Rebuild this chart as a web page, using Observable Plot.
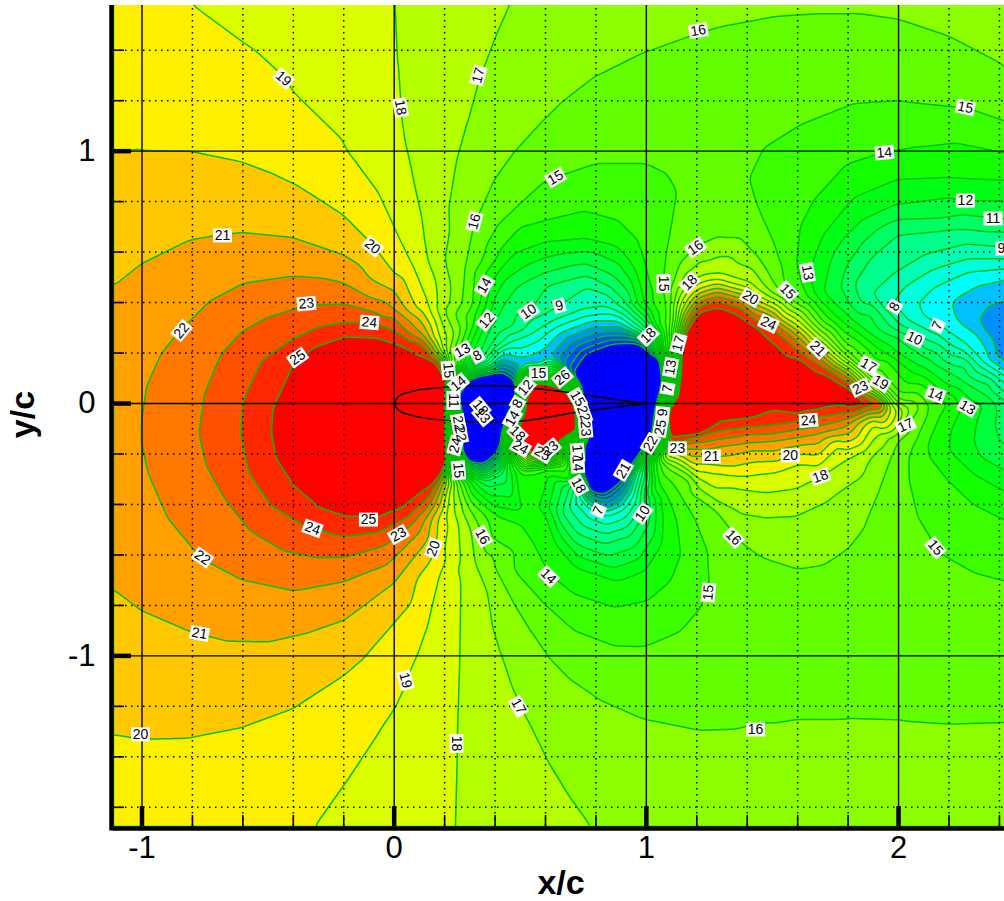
<!DOCTYPE html>
<html><head><meta charset="utf-8">
<script src="https://cdn.jsdelivr.net/npm/d3@7"></script>
<script src="https://cdn.jsdelivr.net/npm/@observablehq/plot@0.6"></script>
<style>html,body{margin:0;padding:0;background:#fff;overflow:hidden}#w{position:absolute;left:0;top:5px;width:1004px;height:896px;overflow:hidden}#w svg{display:block;margin-top:-3px;max-width:none!important;background:#fff}</style>
</head><body><div id="w"></div>
<script>
// Contour lines: [x/c, y/c] along each level
const lvl0=[[.37,.03],[.35,-.1],[.3,.05],[.43,.06],[.32,-.19],[.4,-.1],[.9,.1],[.88,-.1],[.83,-.25],[.8,.1],[.98,.15],[1,0],[.8,-.1],[.87,-.27],[.8,-.3],[.95,-.12]];
const lvl1=[[.25,.045],[.342,.111],[.422,.124],[.488,.078],[.494,.012],[.455,-.041],[.428,-.12],[.415,-.186],[.356,-.239],[.29,-.226],[.263,-.173],[.276,-.094],[.256,-.015],
[.706,.111],[.765,.197],[.871,.236],[.976,.236],[1.056,.183],[1.069,.091],[1.042,-.015],[1.029,-.12],[.99,-.173],[.95,-.239],[.897,-.305],[.831,-.358],[.778,-.345],[.745,-.279],[.752,-.16],[.758,-.054],[.739,.025],[.739,.064]];
const lvl5=[[.342,.144],[.422,.177],[.501,.15],[.567,.157],[.62,.19],[.686,.263],[.791,.302],[.897,.302],[.99,.263],[1.03,.223],
[.3,-.26],[.36,-.275],[.42,-.23],
[2.46,.42],[2.421,.411],[2.352,.395],[2.3,.349],[2.319,.303],[2.365,.25],[2.379,.184],[2.418,.157],[2.445,.131]];
const lvl4=[[2.46,.3],[2.47,.37],[2.47,.2]];
const lvl6=[[2.46,.5],[2.421,.494],[2.312,.468],[2.22,.415],[2.2,.382],[2.233,.329],[2.312,.276],[2.359,.197],[2.405,.144],[2.445,.118]];
const lvl7=[[2.46,.535],[2.421,.534],[2.273,.521],[2.14,.461],[2.074,.395],[2.101,.342],[2.16,.309],[2.246,.25],[2.326,.17],[2.405,.118],[2.445,.098],
[.739,-.371],[.792,-.424],[.845,-.444],[.911,-.417],[.951,-.358],[.98,-.25],[.73,-.3]];
const lvl8=[[.36,.155],[.402,.2],[.474,.25],[.567,.289],[.633,.329],[.739,.368],[.844,.382],[.924,.342],[.99,.289],[1.016,.256],
[2.46,.57],[2.421,.573],[2.273,.573],[2.127,.527],[2.021,.461],[1.955,.402],[1.988,.382],[2.035,.329],[2.114,.29],[2.22,.223],[2.312,.157],[2.392,.105],[2.445,.065]];
const lvl9=[[.35,.16],[.4,.22],[.461,.28],[.54,.33],[.659,.388],[.765,.461],[.844,.435],[.897,.382],[.95,.342],[1.003,.302],[1.03,.263],
[2.46,.62],[2.421,.62],[2.273,.633],[2.114,.593],[1.982,.514],[1.896,.435],[1.942,.382],[2.021,.303],[2.101,.256],[2.207,.19],[2.299,.131],[2.392,.065],[2.445,.025]];
const lvl10=[[.33,.17],[.39,.24],[.47,.3],[.547,.375],[.606,.467],[.765,.507],[.857,.461],[.923,.395],[.99,.33],[1.035,.27],
[.28,-.27],[.36,-.3],[.43,-.27],[.46,-.2],
[.7,-.33],[.666,-.437],[.726,-.516],[.832,-.556],[.938,-.523],[.99,-.437],[.99,-.371],[1,-.25],
[2.46,.68],[2.418,.68],[2.2,.69],[1.995,.67],[1.889,.578],[1.823,.474],[1.85,.395],[1.969,.303],[2.061,.26],[2.154,.2],[2.273,.144],[2.365,.078],[2.421,.012],[2.46,-.02]];
const lvl11=[[.33,.18],[.38,.3],[.43,.39],[.481,.461],[.6,.52],[.765,.553],[.87,.507],[.943,.395],[1,.34],[1.045,.27],
[2.46,.73],[2.418,.73],[2.193,.736],[1.995,.73],[1.863,.644],[1.797,.551],[1.77,.461],[1.797,.408],[1.889,.355],[1.995,.263],[2.101,.184],[2.233,.105],[2.339,.038],[2.392,-.028],[2.378,-.094],[2.391,-.147],[2.418,-.173],[2.46,-.19]];
const lvl12=[[.31,.2],[.366,.329],[.39,.39],[.435,.487],[.534,.553],[.659,.593],[.791,.6],[.897,.553],[.963,.395],[1.015,.33],[1.055,.25],
[2.46,.8],[2.418,.802],[2.266,.805],[1.995,.789],[1.85,.723],[1.73,.565],[1.702,.436],[1.757,.382],[1.85,.303],[1.982,.21],[2.101,.144],[2.233,.065],[2.339,-.001],[2.312,-.067],[2.299,-.147],[2.325,-.213],[2.418,-.265],[2.46,-.285]];
const lvl13=[[.29,.19],[.335,.33],[.382,.474],[.474,.593],[.6,.639],[.752,.652],[.884,.62],[.95,.54],[.989,.395],[1.03,.32],[1.065,.23],
[.25,-.26],[.31,-.33],[.4,-.41],[.5,-.43],[.58,-.41],[.607,-.437],[.647,-.556],[.726,-.648],[.885,-.701],[.99,-.662],[1.057,-.556],[1.063,-.45],[1.03,-.345],[1.02,-.25],
[2.46,.88],[2.421,.884],[2.193,.895],[1.995,.888],[1.823,.816],[1.704,.67],[1.66,.56],[1.644,.521],[1.677,.421],[1.77,.329],[1.929,.21],[2.061,.118],[2.167,.038],[2.246,-.021],[2.206,-.107],[2.2,-.186],[2.299,-.279],[2.418,-.345],[2.46,-.37]];
const lvl14=[[.27,.17],[.32,.33],[.355,.467],[.408,.58],[.5,.699],[.6,.725],[.752,.762],[.884,.725],[.963,.646],[.996,.54],[1.022,.395],[1.05,.31],[1.075,.2],
[.56,.12],[.52,.1],[.6,.1],[.68,.09],[.71,.05],
[.47,-.22],[.5,-.27],[.58,-.26],[.66,-.2],[.7,-.24],[.7,-.3],
[.24,-.255],[.29,-.305],[.409,-.444],[.501,-.477],[.554,-.556],[.62,-.681],[.713,-.754],[.871,-.807],[1.004,-.78],[1.096,-.701],[1.136,-.596],[1.123,-.477],[1.083,-.371],[1.043,-.305],[1.04,-.22],
[2.46,.99],[2.418,.994],[2.088,1.018],[1.916,.987],[1.797,.948],[1.664,.802],[1.611,.697],[1.598,.554],[1.625,.461],[1.704,.355],[1.823,.263],[1.955,.17],[2.088,.078],[2.154,.038],[2.2,.012],[2.153,-.067],[2.114,-.16],[2.12,-.206],[2.193,-.298],[2.299,-.398],[2.418,-.457],[2.46,-.48]];
const lvl15=[[.26,.16],[.314,.396],[.37,.634],[.5,.792],[.6,.883],[.798,.95],[1,.95],[1.083,.91],[1.123,.844],[1.107,.737],[1.083,.606],[1.068,.475],[1.083,.396],[1.085,.28],[1.09,.2],
[.24,-.25],[.276,-.305],[.382,-.53],[.475,-.662],[.594,-.794],[.713,-.9],[.871,-.959],[.99,-.962],[1.136,-.9],[1.215,-.807],[1.248,-.701],[1.242,-.582],[1.202,-.477],[1.149,-.384],[1.096,-.305],[1.06,-.23],
[2.46,1.1],[2.417,1.12],[2.265,1.173],[1.996,1.2],[1.822,1.188],[1.6,1.1],[1.464,1.014],[1.406,.895],[1.441,.777],[1.505,.634],[1.545,.475],[1.6,.42],[1.7,.325],[1.8,.225],[1.9,.13],[2,.04],[2.12,-.01],[2.11,-.06],[2.075,-.135],[2.04,-.214],[2.04,-.305],[2.075,-.452],[2.146,-.57],[2.194,-.61],[2.3,-.67],[2.416,-.701],[2.46,-.71]];
const lvl16=[[.24,.15],[.27,.396],[.283,.539],[.318,.717],[.394,.883],[.473,.994],[.6,1.133],[.659,1.192],[.798,1.3],[.996,1.399],[1.214,1.478],[1.294,1.5],[1.492,1.537],[1.678,1.549],[1.822,1.549],[1.996,1.525],[2.194,1.458],[2.405,1.347],[2.46,1.3],
[.235,-.24],[.256,-.305],[.275,-.357],[.303,-.424],[.35,-.515],[.394,-.61],[.473,-.79],[.54,-.9],[.612,-1.006],[.7,-1.097],[.806,-1.169],[1.004,-1.256],[1.2,-1.296],[1.373,-1.29],[1.492,-1.267],[1.598,-1.25],[1.796,-1.25],[1.995,-1.256],[2.193,-1.27],[2.418,-1.263],[2.47,-1.26],
[1.1,.2],[1.1,.33],[1.096,.448],[1.135,.555],[1.195,.618],[1.282,.654],[1.373,.654],[1.425,.598],[1.48,.52],[1.535,.44],[1.6,.39],[1.7,.3],[1.8,.2],[1.9,.11],[2,.015],[2.07,-.03],[2.034,-.08],[1.995,-.147],[1.968,-.214],[1.916,-.357],[1.861,-.49],[1.798,-.57],[1.704,-.634],[1.6,-.65],[1.452,-.602],[1.373,-.543],[1.282,-.424],[1.175,-.305],[1.08,-.25]];
const lvl17=[[.47,1.63],[.453,1.577],[.4,1.458],[.333,1.28],[.288,1.115],[.247,.968],[.216,.78],[.2,.57],[.198,.37],[.225,.15],
[.79,-1.72],[.767,-1.664],[.711,-1.585],[.6,-1.403],[.528,-1.256],[.461,-1.109],[.421,-.99],[.39,-.887],[.322,-.634],[.275,-.436],[.25,-.345],[.23,-.24],
[1.057,-.226],[1.203,-.332],[1.3,-.4],[1.373,-.436],[1.466,-.45],[1.585,-.444],[1.717,-.384],[1.889,-.213],[1.988,-.133],[2.028,-.087],[2.05,-.02]];
const lvl18=[[0,1.63],[.012,1.35],[.025,1.147],[.04,1.042],[.07,.91],[.12,.645],[.169,.393],[.202,.22],[.215,.14],
[.235,-1.72],[.239,-1.672],[.247,-1.363],[.259,-.99],[.263,-.701],[.255,-.475],[.235,-.357],[.222,-.25],
[1.07,-.22],[1.203,-.3],[1.348,-.332],[1.479,-.351],[1.598,-.334],[1.684,-.292],[1.796,-.219],[1.929,-.114],[2.021,-.028],
[1.105,.2],[1.11,.25],[1.12,.36],[1.137,.435],[1.174,.481],[1.23,.507],[1.295,.511],[1.414,.474],[1.534,.401],[1.6,.355],[1.7,.26],[1.8,.17],[1.9,.085],[1.96,.03]];
const lvl19=[[-.82,1.63],[-.808,1.577],[-.603,1.426],[-.563,1.4],[-.44,1.288],[-.4,1.228],[-.207,1.04],[-.18,.989],[-.062,.83],[0,.698],[.07,.553],[.136,.393],[.183,.25],[.21,.14],
[-.36,-1.72],[-.32,-1.673],[-.194,-1.495],[-.062,-1.296],[0,-1.204],[.047,-1.098],[.086,-1.006],[.132,-.874],[.18,-.676],[.205,-.44],[.215,-.29],
[1.084,-.213],[1.243,-.272],[1.375,-.288],[1.505,-.272],[1.598,-.239],[1.77,-.16],[1.902,-.08],[1.995,-.021]];
const lvl20=[[-1.18,.97],[-1.108,.979],[-1,.995],[-.802,.992],[-.598,.95],[-.472,.903],[-.4,.87],[-.3,.807],[-.197,.74],[-.082,.625],[.004,.512],[.096,.367],[.19,.195],
[-1.18,-1.28],[-1.108,-1.303],[-1,-1.32],[-.8,-1.316],[-.6,-1.277],[-.4,-1.204],[-.198,-1.072],[-.116,-1],[0,-.867],[.145,-.623],[.205,-.345],
[1.084,-.193],[1.243,-.239],[1.414,-.233],[1.573,-.21],[1.772,-.16],[1.93,-.087],[1.97,-.02],
[1.115,.2],[1.125,.3],[1.143,.375],[1.209,.454],[1.282,.474],[1.414,.421],[1.534,.349],[1.6,.309],[1.7,.225],[1.8,.145],[1.9,.06],[1.945,.02]];
const lvl21=[[-1.18,.4],[-1.108,.46],[-1,.546],[-.8,.645],[-.683,.665],[-.6,.674],[-.4,.654],[-.197,.585],[0,.446],[.096,.34],[.19,.19],
[-1.18,-.68],[-1.108,-.731],[-1,-.814],[-.8,-.9],[-.656,-.937],[-.498,-.94],[-.326,-.9],[-.194,-.854],[0,-.709],[.132,-.543],[.2,-.345],
[1.11,-.186],[1.266,-.21],[1.414,-.186],[1.6,-.166],[1.772,-.127],[1.93,-.06]];
const lvl22=[[-.996,-.077],[-.974,.075],[-.92,.195],[-.841,.29],[-.723,.407],[-.598,.473],[-.4,.502],[-.273,.493],[-.194,.473],[0,.373],[.11,.274],[.19,.19],
[-.996,-.154],[-.974,-.266],[-.894,-.451],[-.762,-.61],[-.603,-.695],[-.392,-.739],[-.194,-.702],[0,-.61],[.12,-.464],[.2,-.306],
[1.157,-.18],[1.309,-.166],[1.507,-.147],[1.679,-.12],[1.798,-.087],[1.93,-.04],[1.95,-.01],
[1.13,.27],[1.15,.342],[1.209,.421],[1.282,.444],[1.388,.414],[1.507,.341],[1.6,.27],[1.7,.19],[1.8,.12],[1.9,.04],[1.93,.018]];
const lvl23=[[-.769,-.123],[-.749,.036],[-.683,.195],[-.598,.287],[-.498,.34],[-.353,.387],[-.194,.393],[0,.34],[.11,.26],[.19,.18],
[-.769,-.108],[-.743,-.24],[-.67,-.372],[-.565,-.504],[-.433,-.583],[-.3,-.61],[-.194,-.607],[-.062,-.57],[.07,-.477],[.15,-.385],[.2,-.292],
[1.15,-.173],[1.309,-.14],[1.507,-.12],[1.666,-.094],[1.798,-.061],[1.93,-.025]];
const lvl24=[[-.604,-.123],[-.597,.009],[-.524,.168],[-.405,.248],[-.3,.3],[-.194,.32],[-.102,.316],[0,.287],[.11,.234],[.19,.168],
[-.604,-.108],[-.571,-.279],[-.485,-.405],[-.353,-.484],[-.194,-.528],[-.062,-.51],[.044,-.458],[.136,-.372],[.2,-.279],
[1.097,-.153],[1.203,-.127],[1.308,-.104],[1.507,-.087],[1.64,-.065],[1.798,-.035],[1.93,-.012],
[1.13,.2],[1.15,.289],[1.203,.382],[1.282,.405],[1.375,.382],[1.487,.316],[1.6,.217],[1.7,.15],[1.8,.09],[1.904,.012]];
const lvl25=[[-.491,-.123],[-.485,-.017],[-.399,.168],[-.326,.228],[-.194,.274],[-.062,.268],[.044,.234],[.136,.181],[.19,.128],[.215,.09],[.21,0],[.21,-.1],[.215,-.2],
[-.491,-.108],[-.472,-.22],[-.4,-.332],[-.3,-.418],[-.194,-.454],[-.062,-.458],[.044,-.418],[.136,-.345],[.2,-.266],[.22,-.233],
[.501,-.061],[.514,.012],[.554,.078],[.593,.084],[.686,.051],[.725,-.015],[.732,-.107],[.666,-.147],[.646,-.2],[.58,-.213],[.514,-.173],[.488,-.107],
[1.084,-.134],[1.177,-.12],[1.282,-.074],[1.401,-.061],[1.6,-.04],[1.798,-.017],[1.93,0],
[1.084,-.028],[1.117,.038],[1.137,.183],[1.17,.296],[1.216,.368],[1.282,.388],[1.348,.362],[1.441,.302],[1.6,.184],[1.772,.078],[1.877,.005]];
const rimX=[-1.2,-.4,.2,1,1.7,2.5,2.5,1.6,.5,-.05,-1.2,-1.2,-1.2,-1.2,2.5,2.5,2.5,2.5,2.5];
const rimY=[1.65,1.65,1.65,1.65,1.65,1.65,-1.75,-1.75,-1.75,-1.75,-1.75,0,.75,-1,1.2,-.05,-.6,-1,.3];
const rimV=[19.5,18.5,17.5,16.7,16.2,16.5,16.5,16.5,17.5,18.5,19.5,21.5,20.5,20.5,15.5,10.5,14.5,15.5,4.5];
// open areas of the 15-16 band, between the two 16 lines
const bandX=[1.3,1.6,1.85,1.6,1.9,2.2,1.2,.9,2.3,1.25,1.25,1.6,1,1.95,2.3];
const bandY=[-.95,-.85,-.75,-1.1,-1,-.9,-1.1,-1.1,-1.1,.9,1.2,1.3,1.2,1.38,1.25];
const bandV=[15.5,15.5,15.5,15.5,15.5,15.5,15.5,15.5,15.5,15.5,15.5,15.5,15.5,15.5,15.5];
// inside of the red regions
const coreX=[-.15,-.3,-.1,0,.1,-.1,.15,.15,.15,.6,.55,.65,.6,1.12,1.15,1.2,1.3,1.4,1.25,1.5,1.6,1.65,1.75,1.82,1.7,1.85,1.2];
const coreY=[-.1,-.1,.1,-.1,-.1,-.3,.05,-.05,-.15,-.05,-.1,-.03,.02,-.05,.1,.25,.25,.2,.05,.1,.08,.06,.03,.02,.05,.008,-.08];
const coreV=[25.5,25.5,25.5,25.5,25.5,25.5,30,30,30,35,35,35,35,30,30,30,27,27,27,27,27,27,26,26,27,26,30];

const levels=[-20,1,2,3,4,5,6,7,8,9,10,11,12,13,14,15,16,17,18,19,20,21,22,23,24,25];
const bandColors=["#0000ff","#0030ff","#0050ff","#0070ff","#0090ff","#00c0ff","#00fcff","#00ffdc","#00ffb4","#00ff8c","#00ff64","#00ff3c","#00ff14","#14ff00","#3cff00","#64ff00","#8cff00","#b4ff00","#dcff00","#fff000","#ffc800","#ffa000","#ff7800","#ff5000","#ff2800","#ff0000"];

const airfoilX=[0,.02,.08,.25,.41,.6,.725,.9,1,.9,.725,.5,.25,.08,.02,0];
const airfoilY=[0,.03,.05,.067,.07,.055,.04,.012,0,-.012,-.035,-.07,-.07,-.05,-.028,0];

const labelText=["19","18","17","16","15","14","12","11","9","8","7","10","13","15","15","16","14","12","10","9","21","20","23","24","25","22","24","25","23","22","21","20","20","19","18","17","16","14","15","16","18","20","21","23","24","16","15","17","14","13","10","7","21","18","17","13","7","9","25","22","24","20","21","18","15","16","17","19","23",
"13","8","15","14","11","18","13","22","22","24","15","15","26","12","8","14","18","24","25","23","15","22","23","17","14","18"];
const labelX=[-.439,.025,.334,1.206,2.265,1.944,2.265,2.375,2.408,1.984,2.154,2.063,1.639,1.56,.64,.318,.358,.366,.533,.655,-.681,-.086,-.348,-.098,-.383,-.843,-.324,-.102,.017,-.76,-.772,.156,-1.006,.045,.247,.493,.35,.612,1.246,1.345,1.69,1.571,1.258,1.123,1.643,1.433,2.146,2.028,2.146,2.273,.985,.81,.909,1.008,1.127,1.096,1.084,1.064,1.056,1.016,1.484,1.413,1.679,1.171,1.068,1.195,1.881,1.928,1.849,
.271,.33,.215,.255,.235,.342,.35,.255,.263,.243,.255,.572,.667,.521,.489,.469,.489,.501,.588,.62,.727,.751,.759,.727,.727,.731];
const labelY=[1.288,1.173,1.3,1.478,1.173,.994,.804,.733,.614,.384,.309,.258,.519,.444,.895,.721,.468,.329,.364,.388,.666,.622,.396,.321,.182,.289,-.495,-.46,-.519,-.61,-.911,-.574,-1.311,-1.097,-1.347,-1.2,-.527,-.685,-.749,-.531,-.289,-.206,-.21,-.178,-.067,-1.292,-.571,-.087,.036,-.016,-.436,-.424,-.265,.269,.238,.143,.059,-.036,-.095,-.158,.317,.42,.218,.479,.475,.618,.151,.083,.063,
.21,.19,.131,.079,.012,-.016,-.048,-.079,-.119,-.166,-.265,.119,.103,.063,0,-.059,-.119,-.174,-.198,-.178,.02,-.04,-.099,-.194,-.238,-.325];
const labelAngle=[40,80,-75,-10,12,-5,0,0,0,-60,-65,25,80,45,-30,-75,-60,-50,-35,-15,0,40,-5,5,-35,-50,20,0,-30,35,10,-70,0,75,90,60,60,45,-85,45,-20,0,0,0,-5,0,50,-25,20,30,-55,-65,-60,-45,-75,-80,-80,-85,-80,-60,25,30,45,-45,90,-35,30,30,-25,
-30,-30,85,-40,90,50,50,80,80,-75,85,0,-40,-50,-60,-60,45,30,30,-40,60,70,85,85,85,60];

const xMajor=[-1,0,1,2], yMajor=[-1,0,1];
const xMinor=[-.8,-.6,-.4,-.2,.2,.4,.6,.8,1.2,1.4,1.6,1.8,2.2,2.4];
const yMinor=[-1.6,-1.4,-1.2,-.8,-.6,-.4,-.2,.2,.4,.6,.8,1.2,1.4];

const traces=[[0,lvl0],[1,lvl1],[4,lvl4],[5,lvl5],[6,lvl6],[7,lvl7],[8,lvl8],[9,lvl9],[10,lvl10],[11,lvl11],[12,lvl12],[13,lvl13],[14,lvl14],[15,lvl15],[16,lvl16],[17,lvl17],[18,lvl18],[19,lvl19],[20,lvl20],[21,lvl21],[22,lvl22],[23,lvl23],[24,lvl24],[25,lvl25]];
const field=traces.flatMap(([L,pts])=>pts.map(([x,y])=>({x,y,v:L===0?-6:L===4?4.5:L+.01})));
rimX.forEach((x,i)=>field.push({x,y:rimY[i],v:rimV[i]}));
bandX.forEach((x,i)=>field.push({x,y:bandY[i],v:bandV[i]}));
coreX.forEach((x,i)=>field.push({x,y:coreY[i],v:coreV[i]}));
const airfoil=airfoilX.map((x,i)=>({x,y:airfoilY[i]}));
const labels=labelText.map((t,i)=>({t,x:labelX[i],y:labelY[i],a:labelAngle[i]}));

const box=(w,h)=>({draw(c){c.rect(-w/2,-h/2,w,h);}});
const xDom=[-1.113,2.436], yDom=[-1.676,1.589];
const font="'Liberation Sans',Arial,sans-serif";
const px=252.4;
const chart=Plot.plot({
  width:1008,height:899,marginLeft:113,marginRight:0,marginTop:0,marginBottom:75,
  style:{fontFamily:font,background:"#fff",maxWidth:"none",overflow:"visible"},
  x:{domain:xDom,label:null},
  y:{domain:yDom,label:null},
  color:{type:"ordinal",domain:levels,range:bandColors},
  marks:[
    Plot.contour(field,{x:"x",y:"y",fill:"v",interpolate:"barycentric",thresholds:levels,pixelSize:1,blur:3,stroke:"#00c000",strokeWidth:1.5}),
    Plot.ruleX(xMinor,{stroke:"#000",strokeWidth:1.5,strokeDasharray:"1.5 4.5"}),
    Plot.ruleY(yMinor,{stroke:"#000",strokeWidth:1.5,strokeDasharray:"1.5 4.5"}),
    Plot.ruleX(xMajor,{stroke:"#000",strokeWidth:1.4}),
    Plot.ruleY(yMajor,{stroke:"#000",strokeWidth:1.4}),
    Plot.line(airfoil,{x:"x",y:"y",stroke:"#000",strokeWidth:1.5,curve:"catmull-rom"}),
    Plot.dot(labels.filter(d=>d.t.length>1),{x:"x",y:"y",rotate:"a",symbol:box(19,14),fill:"#fff",stroke:null}),
    Plot.dot(labels.filter(d=>d.t.length===1),{x:"x",y:"y",rotate:"a",symbol:box(12,14),fill:"#fff",stroke:null}),
    Plot.text(labels,{x:"x",y:"y",text:"t",rotate:"a",fontSize:14,fill:"#000",fontFamily:font}),
    Plot.ruleX(xMinor,{y1:yDom[0],y2:yDom[0]+11/px,stroke:"#000",strokeWidth:1.6}),
    Plot.ruleY(yMinor,{x1:xDom[0],x2:xDom[0]+11/px,stroke:"#000",strokeWidth:1.6}),
    Plot.ruleX(xMajor,{y1:yDom[0],y2:yDom[0]+20/px,stroke:"#000",strokeWidth:4.5}),
    Plot.ruleY(yMajor,{x1:xDom[0],x2:xDom[0]+18/px,stroke:"#000",strokeWidth:4.5}),
    Plot.ruleX([xDom[0]],{y1:yDom[0]-4.5/px,y2:yDom[1],stroke:"#000",strokeWidth:4.5,dx:-2}),
    Plot.ruleY([yDom[0]],{x1:xDom[0],x2:xDom[1],stroke:"#000",strokeWidth:4.5,dy:2}),
    Plot.axisX(xMajor,{anchor:"bottom",tickSize:0,tickPadding:9,fontSize:31,label:null,tickFormat:d=>String(d),fontFamily:font}),
    Plot.axisY(yMajor,{anchor:"left",tickSize:0,tickPadding:18,fontSize:31,label:null,tickFormat:d=>String(d),fontFamily:font}),
    Plot.text(["x/c"],{frameAnchor:"bottom",dy:67,fontSize:34,fontWeight:"bold",fontFamily:font}),
    Plot.text(["y/c"],{frameAnchor:"left",textAnchor:"middle",rotate:-90,dx:-90,fontSize:34,fontWeight:"bold",fontFamily:font})
  ]
});
document.getElementById("w").appendChild(chart);
</script>
</body></html>
